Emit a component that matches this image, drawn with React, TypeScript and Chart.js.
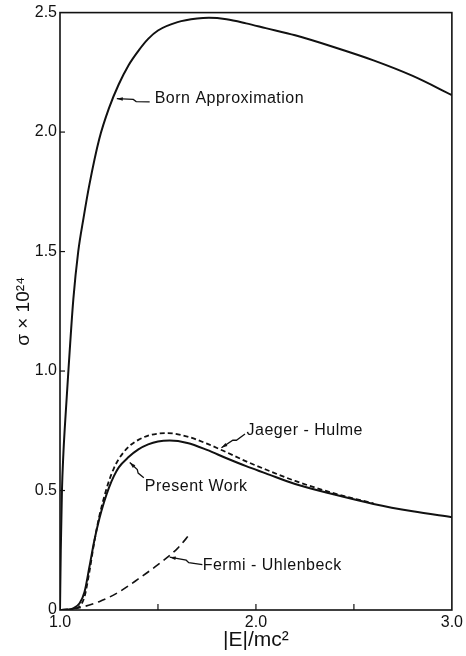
import React, { useEffect, useRef } from 'react';
import { Chart, registerables } from 'chart.js';

Chart.register(...registerables);

// ---- data ----
const bornX = [1.0, 1.004, 1.01, 1.017, 1.025, 1.042, 1.068, 1.093, 1.12, 1.15, 1.2, 1.25, 1.3, 1.35, 1.4, 1.45, 1.5, 1.6, 1.7, 1.76, 1.85, 1.95, 2.05, 2.2, 2.4, 2.6, 2.8, 3.0];
const bornY = [0, 0.25, 0.5, 0.65, 0.77, 0.99, 1.3, 1.5, 1.64, 1.78, 1.97, 2.1, 2.2, 2.28, 2.34, 2.39, 2.425, 2.46, 2.475, 2.478, 2.472, 2.455, 2.435, 2.405, 2.355, 2.3, 2.235, 2.155];

const presentX = [1.0, 1.04, 1.07, 1.1, 1.125, 1.15, 1.175, 1.2, 1.225, 1.25, 1.275, 1.3, 1.35, 1.4, 1.45, 1.5, 1.56, 1.65, 1.75, 1.85, 1.95, 2.05, 2.2, 2.4, 2.6, 2.8, 3.0];
const presentY = [0, 0.002, 0.008, 0.028, 0.075, 0.18, 0.29, 0.38, 0.452, 0.512, 0.56, 0.597, 0.64, 0.672, 0.693, 0.705, 0.709, 0.699, 0.67, 0.635, 0.602, 0.572, 0.527, 0.483, 0.444, 0.413, 0.388];

const jaegerX = [1.0, 1.05, 1.08, 1.1, 1.125, 1.15, 1.175, 1.2, 1.225, 1.25, 1.275, 1.3, 1.35, 1.4, 1.45, 1.5, 1.55, 1.65, 1.75, 1.85, 1.95, 2.05, 2.2, 2.4, 2.6];
const jaegerY = [0, 0.001, 0.006, 0.015, 0.055, 0.16, 0.285, 0.39, 0.472, 0.54, 0.593, 0.632, 0.683, 0.712, 0.73, 0.738, 0.74, 0.726, 0.696, 0.66, 0.622, 0.588, 0.54, 0.488, 0.446];

const fermiX = [1.0, 1.1, 1.2, 1.3, 1.4, 1.5, 1.6, 1.665];
const fermiY = [0, 0.01, 0.035, 0.075, 0.13, 0.19, 0.258, 0.32];

const xTickLabels = ['1.0', '2.0', '3.0'];
const yTickLabels = ['0', '0.5', '1.0', '1.5', '2.0', '2.5'];

const labelTexts = ['Born Approximation', 'Jaeger - Hulme', 'Present Work', 'Fermi - Uhlenbeck'];
const labelX = [1.483, 1.952, 1.433, 1.728];
const labelY = [2.142, 0.75, 0.517, 0.1875];
const arrowFromX = [1.458, 1.94, 1.433, 1.728];
const arrowFromY = [2.133, 0.742, 0.558, 0.196];
const arrowToX = [1.29, 1.824, 1.356, 1.56];
const arrowToY = [2.14, 0.679, 0.617, 0.221];

const INK = '#111';

const toPts = (xs: number[], ys: number[]) => xs.map((x, i) => ({ x, y: ys[i] }));

const framePlugin = {
  id: 'framePlugin',
  afterDatasetsDraw(chart: any) {
    const { ctx, chartArea: a, scales } = chart;
    const xs = scales.x;
    const ys = scales.y;
    ctx.save();
    ctx.strokeStyle = INK;
    ctx.lineWidth = 1.6;
    ctx.setLineDash([]);
    ctx.strokeRect(a.left, a.top, a.right - a.left, a.bottom - a.top);
    ctx.lineWidth = 1.2;
    xs.ticks.forEach((t: any) => {
      if (t.value > xs.min && t.value < xs.max) {
        const p = xs.getPixelForValue(t.value);
        ctx.beginPath();
        ctx.moveTo(p, a.bottom);
        ctx.lineTo(p, a.bottom - 6);
        ctx.stroke();
      }
    });
    ys.ticks.forEach((t: any) => {
      if (t.value > ys.min && t.value < ys.max) {
        const p = ys.getPixelForValue(t.value);
        ctx.beginPath();
        ctx.moveTo(a.left, p);
        ctx.lineTo(a.left + 5, p);
        ctx.stroke();
      }
    });
    // annotations
    ctx.fillStyle = INK;
    ctx.font = '16px "Liberation Sans", Arial, sans-serif';
    try { (ctx as any).letterSpacing = '0.5px'; } catch (e) {}
    ctx.textAlign = 'left';
    ctx.textBaseline = 'middle';
    labelTexts.forEach((txt, i) => {
      ctx.fillText(txt, xs.getPixelForValue(labelX[i]), ys.getPixelForValue(labelY[i]));
      const fx = xs.getPixelForValue(arrowFromX[i]);
      const fy = ys.getPixelForValue(arrowFromY[i]);
      const tx = xs.getPixelForValue(arrowToX[i]);
      const ty = ys.getPixelForValue(arrowToY[i]);
      const len = Math.hypot(fx - tx, fy - ty);
      const ux = (fx - tx) / len;
      const uy = (fy - ty) / len;
      const px = -uy;
      const py = ux;
      const mx = tx + ux * len * 0.5;
      const my = ty + uy * len * 0.5;
      ctx.lineWidth = 1.3;
      ctx.beginPath();
      ctx.moveTo(tx, ty);
      ctx.lineTo(mx, my);
      ctx.lineTo(mx + ux * 3 + px * 2, my + uy * 3 + py * 2);
      ctx.lineTo(fx + px * 1.5, fy + py * 1.5);
      ctx.stroke();
      ctx.beginPath();
      ctx.moveTo(tx, ty);
      ctx.lineTo(tx + ux * 6 + px * 1.8, ty + uy * 6 + py * 1.8);
      ctx.lineTo(tx + ux * 6 - px * 1.8, ty + uy * 6 - py * 1.8);
      ctx.closePath();
      ctx.fill();
    });
    ctx.restore();
  },
};

export default function App() {
  const ref = useRef<HTMLCanvasElement | null>(null);
  useEffect(() => {
    if (!ref.current) return;
    const common = { pointRadius: 0, borderColor: INK, fill: false, cubicInterpolationMode: 'monotone' as const, borderWidth: 2 };
    const chart = new Chart(ref.current, {
      type: 'line',
      data: {
        datasets: [
          { ...common, label: 'Born Approximation', data: toPts(bornX, bornY) },
          { ...common, label: 'Present Work', data: toPts(presentX, presentY) },
          { ...common, label: 'Jaeger - Hulme', data: toPts(jaegerX, jaegerY), borderDash: [5, 3], borderWidth: 1.8 },
          { ...common, label: 'Fermi - Uhlenbeck', data: toPts(fermiX, fermiY), borderDash: [8, 5], borderWidth: 1.6 },
        ],
      },
      options: {
        animation: false,
        responsive: false,
        devicePixelRatio: 1,
        layout: { padding: { top: 10, right: 13, left: 0, bottom: 0 } },
        plugins: { legend: { display: false }, tooltip: { enabled: false } },
        scales: {
          x: {
            type: 'linear',
            min: 1,
            max: 3,
            afterFit: (s: any) => { s.height = 46; },
            grid: { display: false, drawTicks: false },
            border: { display: false },
            ticks: {
              stepSize: 0.5,
              autoSkip: false,
              maxRotation: 0,
              padding: 3,
              color: INK,
              font: { family: '"Liberation Sans", Arial, sans-serif', size: 16 },
              callback: (v: any) => {
                const s = Number(v).toFixed(1);
                return xTickLabels.includes(s) ? s : '';
              },
            },
            title: {
              display: true,
              text: '|E|/mc²',
              color: INK,
              font: { family: '"Liberation Sans", Arial, sans-serif', size: 21 },
              padding: { top: 0, bottom: 3 },
            },
          },
          y: {
            type: 'linear',
            min: 0,
            max: 2.5,
            afterFit: (s: any) => { s.width = 60; },
            grid: { display: false, drawTicks: false },
            border: { display: false },
            ticks: {
              stepSize: 0.5,
              autoSkip: false,
              padding: 3,
              color: INK,
              font: { family: '"Liberation Sans", Arial, sans-serif', size: 16 },
              callback: (v: any) => {
                const n = Number(v);
                const s = n === 0 ? '0' : n.toFixed(1);
                return yTickLabels.includes(s) ? s : '';
              },
            },
            title: {
              display: true,
              text: 'σ × 10²⁴',
              color: INK,
              font: { family: '"Liberation Sans", Arial, sans-serif', size: 19 },
              padding: { top: 12, bottom: 0 },
            },
          },
        },
      },
      plugins: [framePlugin],
    });
    return () => chart.destroy();
  }, []);
  return (
    <div style={{ position: 'fixed', left: 0, top: 0, width: 466, height: 656, background: '#fff' }}>
      <canvas ref={ref} width={466} height={656} style={{ width: 466, height: 656, display: 'block' }} />
    </div>
  );
}
